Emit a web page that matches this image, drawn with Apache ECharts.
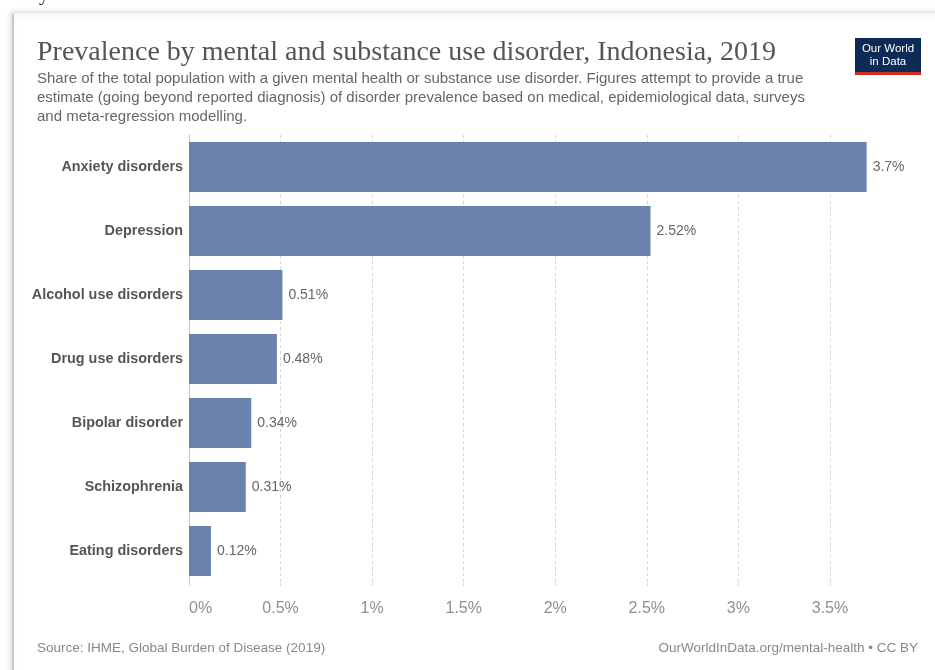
<!DOCTYPE html>
<html>
<head>
<meta charset="utf-8">
<script src="https://cdn.jsdelivr.net/npm/echarts@6/dist/echarts.min.js"></script>
<style>
html,body{margin:0;padding:0;background:#fff;}
#chart{width:935px;height:670px;}
</style>
</head>
<body>
<div id="chart"></div>
<script>
var categories = ['Anxiety disorders','Depression','Alcohol use disorders','Drug use disorders','Bipolar disorder','Schizophrenia','Eating disorders'];
var values = [3.7, 2.52, 0.51, 0.48, 0.34, 0.31, 0.12];
var xTicks = [0, 0.5, 1, 1.5, 2, 2.5, 3, 3.5];

var titleText = 'Prevalence by mental and substance use disorder, Indonesia, 2019';
var subtitleLines = [
  'Share of the total population with a given mental health or substance use disorder. Figures attempt to provide a true',
  'estimate (going beyond reported diagnosis) of disorder prevalence based on medical, epidemiological data, surveys',
  'and meta-regression modelling.'
];
var sourceText = 'Source: IHME, Global Burden of Disease (2019)';
var creditText = 'OurWorldInData.org/mental-health \u2022 CC BY';

var chart = echarts.init(document.getElementById('chart'), null, {renderer:'canvas'});
var option = {
  backgroundColor: '#fff',
  animation: false,
  grid: {left: 189, top: 135, width: 641, height: 448, containLabel: false},
  xAxis: {
    type: 'value', min: xTicks[0], max: xTicks[xTicks.length-1], interval: 0.5,
    axisLine: {show: false},
    axisTick: {show: true, length: 6, lineStyle: {color: '#d6d6d6', type: [3,3]}},
    splitLine: {show: true, lineStyle: {color: '#d6d6d6', type: [3,3], width: 1}},
    axisLabel: {
      fontFamily: 'Liberation Sans, Arial, sans-serif', fontSize: 16, color: '#8f8f8f', margin: 18,
      alignMinLabel: 'left',
      formatter: function(v){ return v + '%'; }
    }
  },
  yAxis: {
    type: 'category', data: categories, inverse: true,
    axisLine: {show: true, lineStyle: {color: '#c4c4c4', width: 1}},
    axisTick: {show: false},
    axisLabel: {
      fontFamily: 'Liberation Sans, Arial, sans-serif', fontSize: 14.4, fontWeight: 'bold', color: '#555', margin: 6
    }
  },
  series: [{
    type: 'bar', data: values, clip: false,
    barCategoryGap: '22%',
    itemStyle: {color: '#6982ae'},
    label: {
      show: true, position: 'right', distance: 6,
      fontFamily: 'Liberation Sans, Arial, sans-serif', fontSize: 14, color: '#666',
      formatter: function(p){ return p.value + '%'; }
    }
  }],
  graphic: [
    {type: 'rect', z: -10, shape: {x: 12, y: 13, width: 960, height: 700},
     style: {fill: '#fff', stroke: '#e6e6e6', lineWidth: 1, shadowBlur: 6, shadowColor: 'rgba(0,0,0,0.18)', shadowOffsetX: 0, shadowOffsetY: 0}},
    {type: 'rect', z: -9, shape: {x: 12, y: 14, width: 2, height: 700}, style: {fill: '#c8c8c8'}},
    {type: 'text', left: 4, top: -15, style: {text: 'a nitya.', font: '20px "Liberation Serif", serif', fill: '#222'}},
    {type: 'text', left: 37, top: 39, style: {text: titleText, font: '28px "Liberation Serif", "DejaVu Serif", serif', fill: '#555'}},
    {type: 'text', left: 37, top: 69, style: {text: subtitleLines.join('\n'), font: '15px "Liberation Sans", Arial, sans-serif', fill: '#666', lineHeight: 19}},
    {type: 'group', left: 855, top: 38, children: [
      {type: 'rect', shape: {x: 0, y: 0, width: 66, height: 34}, style: {fill: '#0d2b56'}},
      {type: 'rect', shape: {x: 0, y: 34, width: 66, height: 3}, style: {fill: '#d42b21'}},
      {type: 'text', style: {x: 33, y: 17, text: 'Our World\nin Data', font: '11.5px "Liberation Sans", Arial, sans-serif', fill: '#fff', align: 'center', verticalAlign: 'middle', lineHeight: 13}}
    ]},
    {type: 'text', left: 37, top: 641, style: {text: sourceText, font: '13.5px "Liberation Sans", Arial, sans-serif', fill: '#888'}},
    {type: 'text', right: 17, top: 641, style: {text: creditText, font: '13.5px "Liberation Sans", Arial, sans-serif', fill: '#888'}}
  ]
};
chart.setOption(option);
</script>
</body>
</html>
